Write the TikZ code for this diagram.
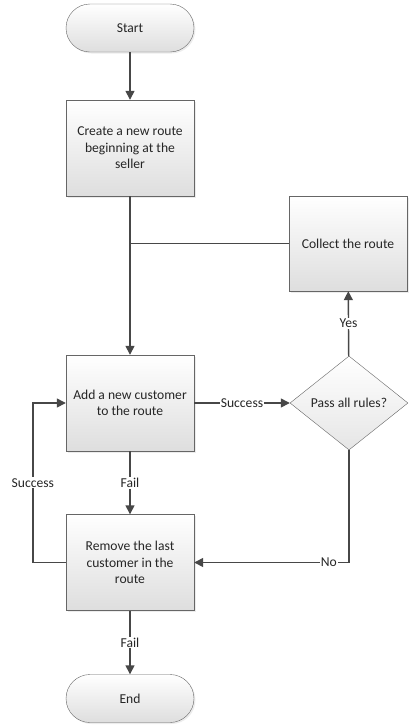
\documentclass[tikz,border=0pt]{standalone}
\usepackage{fontspec}
\setmainfont{Carlito}
\usetikzlibrary{arrows.meta,shapes.geometric,shadows}
\tikzstyle{process}=[
        rectangle, draw=black!60, top color=white, bottom color=black!13,
        minimum width=128, minimum height=96, inner sep=0pt, align=center,
        drop shadow={opacity=0.15, shadow xshift=1.5pt, shadow yshift=-1.5pt}
]
\tikzstyle{terminal}=[
        process, rounded corners=24pt, minimum height=48
]
\tikzstyle{decision}=[
        diamond, draw=black!60, top color=white, bottom color=black!10,
        minimum width=118, minimum height=94, aspect=1.25, inner sep=0pt
]
\tikzstyle{flow}=[
        draw=black!72, line width=1.4pt, -{Triangle[length=9pt,width=9pt]}
]
\tikzstyle{lbl}=[
        fill=white, inner sep=1pt, text=black!85
]

\begin{document}
\begin{tikzpicture}[x=1pt,y=-1pt,font=\fontsize{13.6}{16.5}\selectfont,text=black!85]
                    \useasboundingbox (0,0) rectangle (408,726);

                    \node[terminal] (start) at (130,28) {Start};
                    \node[process] (create) at (130,148) {Create a new route\\beginning at the\\seller};
                    \node[process, minimum width=118, minimum height=95] (collect) at (348,243.5) {Collect the route};
                    \node[process] (add) at (130,403) {Add a new customer\\to the route};
                    \node[decision] (rules) at (349,403) {Pass all rules?};
                    \node[process] (remove) at (130,562.5) {Remove the last\\customer in the\\route};
                    \node[terminal] (end) at (130,698.5) {End};

                    \coordinate (join) at (create.south |- collect.west);

                    \draw[flow] (start) -- (create);
                    \draw[flow] (create) -- (add);
                    \draw[flow, -] (collect.west) -- (join);
                    \draw[flow] (add) -- node[lbl] {Success} (rules);
                    \draw[flow] (rules) -- node[lbl] {Yes} (collect);
                    \draw[flow] (rules.south) |- node[lbl, pos=0.565] {No} (remove.east);
                    \draw[flow] (add) -- node[lbl] {Fail} (remove);
                    \draw[flow] (remove.west) -- ++(-33,0) |- node[lbl, pos=0.25] {Success} (add.west);
                    \draw[flow] (remove) -- node[lbl] {Fail} (end);

                \end{tikzpicture}
\end{document}
